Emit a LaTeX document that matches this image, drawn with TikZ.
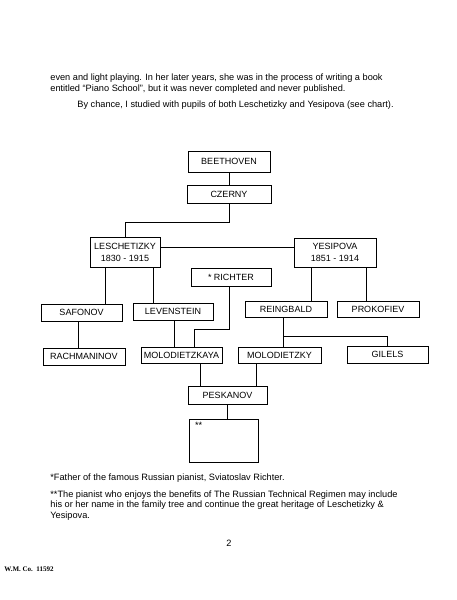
\documentclass[tikz,border=0pt]{standalone}
\usepackage{fontspec}
\setmainfont{Liberation Sans}
\newfontfamily\footerfont{Liberation Serif}
\usetikzlibrary{positioning}

\begin{document}
\begin{tikzpicture}[x=1pt, y=-1pt, line width=0.8pt]

    % Custom styles for the chart
    \tikzstyle{pupil} = [draw, fill=none, inner sep=1pt, font=\fontsize{9}{10}\selectfont]
    \tikzstyle{plain} = [draw=none, fill=none, inner sep=0pt, anchor=base west, font=\fontsize{9.2}{11}\selectfont]

    \useasboundingbox (0,0) rectangle (457,600);

    % Text above the chart
    \node[plain] (para1) at (50,80) {even and light playing. In her later years, she was in the process of writing a book};
    \node[plain] (para2) at (50,91) {entitled ``Piano School'', but it was never completed and never published.};
    \node[plain] (para3) at (77,107) {By chance, I studied with pupils of both Leschetizky and Yesipova (see chart).};

    % Define nodes
    \node[pupil, minimum width=82pt, minimum height=21pt] (beethoven) at (229,161.5) {BEETHOVEN};
    \node[pupil, minimum width=84pt, minimum height=18pt] (czerny) at (229,194) {CZERNY};
    \node[pupil, minimum width=70pt, minimum height=30pt, align=center] (lesch) at (125,252) {LESCHETIZKY\\[2pt]1830 - 1915};
    \node[pupil, minimum width=82pt, minimum height=29pt, align=center] (yesip) at (335,252.5) {YESIPOVA\\[2pt]1851 - 1914};
    \node[pupil, minimum width=80pt, minimum height=18pt] (richter) at (231,277) {* RICHTER};
    \node[pupil, minimum width=81pt, minimum height=17pt] (safonov) at (81.5,312.5) {SAFONOV};
    \node[pupil, minimum width=80pt, minimum height=17pt] (leven) at (173,311.5) {LEVENSTEIN};
    \node[pupil, minimum width=82pt, minimum height=16pt] (reing) at (286,309.5) {REINGBALD};
    \node[pupil, minimum width=82pt, minimum height=16pt] (prok) at (378,309.5) {PROKOFIEV};
    \node[pupil, minimum width=82pt, minimum height=17pt] (rach) at (84,356.5) {RACHMANINOV};
    \node[pupil, minimum width=81pt, minimum height=16pt] (molka) at (181.5,355) {MOLODIETZKAYA};
    \node[pupil, minimum width=83pt, minimum height=16pt] (molky) at (279.5,355) {MOLODIETZKY};
    \node[pupil, minimum width=81pt, minimum height=17pt] (gilels) at (387.5,354.5) {GILELS};
    \node[pupil, minimum width=79pt, minimum height=18pt] (peskanov) at (227.5,395) {PESKANOV};
    \node[pupil, minimum width=69pt, minimum height=43pt] (student) at (223.5,440.5) {};
    \node[plain] (stars) at ([xshift=6pt, yshift=-10pt]student.north west) {**};

    % Branch points
    \coordinate (czl) at (229,222);
    \coordinate (rich) at (194,329);
    \coordinate (rb) at (283,336);

    % Connect nodes
    \draw (beethoven.south) -- (czerny.north);
    \draw (czerny.south) -- (czl) -| (lesch.north);
    \draw (lesch.east |- 0,247.5) -- (yesip.west |- 0,247.5);
    \draw (lesch.south -| 105,0) -- (safonov.north -| 105,0);
    \draw (lesch.south -| 153,0) -- (leven.north -| 153,0);
    \draw (yesip.south -| 311,0) -- (reing.north -| 311,0);
    \draw (yesip.south -| 366,0) -- (prok.north -| 366,0);
    \draw (richter.south -| 229,0) |- (rich) -- (molka.north -| rich);
    \draw (safonov.south -| 78,0) -- (rach.north -| 78,0);
    \draw (leven.south -| 174,0) -- (molka.north -| 174,0);
    \draw (reing.south -| rb) -- (molky.north -| rb);
    \draw (rb) -| (gilels.north);
    \draw (molka.south -| 200,0) -- (peskanov.north -| 200,0);
    \draw (molky.south -| 256,0) -- (peskanov.north -| 256,0);
    \draw (peskanov.south) -- (peskanov.south |- student.north);

    % Footnotes
    \node[plain] (note1) at (50,480) {*Father of the famous Russian pianist, Sviatoslav Richter.};
    \node[plain] (note2) at (50,497) {**The pianist who enjoys the benefits of The Russian Technical Regimen may include};
    \node[plain] (note3) at (50,507.5) {his or her name in the family tree and continue the great heritage of Leschetizky \&};
    \node[plain] (note4) at (50,518) {Yesipova.};
    \node[plain] (page) at (226,546) {2};
    \node[plain, font=\footerfont\bfseries\fontsize{7}{8}\selectfont] (footer) at (4,571.5) {W.M. Co.\ \ 11592};

\end{tikzpicture}
\end{document}
